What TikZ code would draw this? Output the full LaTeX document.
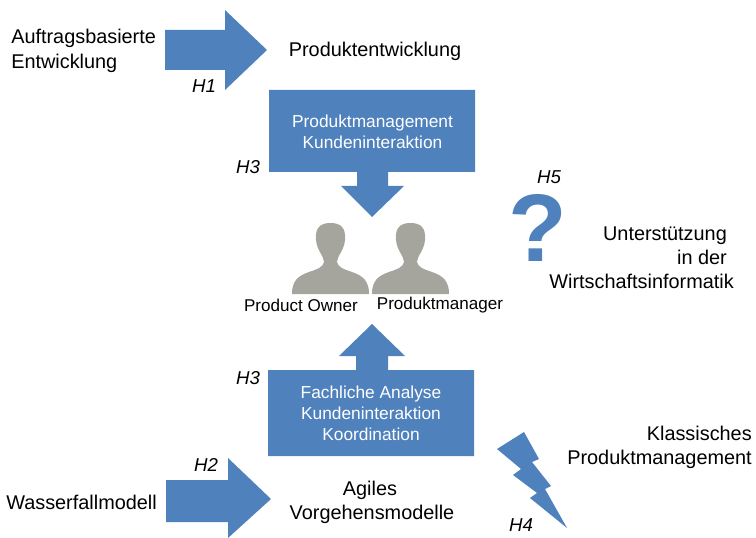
\documentclass[tikz,border=0pt]{standalone}
\usepackage{fontspec}
\setmainfont{Liberation Sans}
\definecolor{bl}{HTML}{4F81BD}
\definecolor{gr}{HTML}{A6A59D}
\tikzset{
  shapefill/.style={fill=bl,draw=none},
  lab/.style={inner sep=0pt,align=center,text=black,font=\fontsize{14.9}{18}\selectfont},
  white lab/.style={inner sep=0pt,align=center,text=white,font=\fontsize{13}{15.8}\selectfont},
  small lab/.style={inner sep=0pt,font=\fontsize{12.8}{15}\selectfont},
  hyp/.style={inner sep=0pt,font=\fontsize{14}{16}\selectfont\itshape},
  person/.pic={
    \fill[gr] (0,0) -- (77,0) .. controls (77,-12) and (72,-18) .. (60,-22)
      .. controls (51,-25) and (46,-27) .. (45,-32)
      .. controls (45,-38) and (52,-43) .. (53,-54)
      .. controls (54,-66) and (49,-71) .. (38.5,-71)
      .. controls (28,-71) and (23,-66) .. (24,-54)
      .. controls (25,-43) and (32,-38) .. (32,-32)
      .. controls (31,-27) and (26,-25) .. (17,-22)
      .. controls (5,-18) and (0,-12) .. (0,0) -- cycle;
  }
}
\begin{document}
\begin{tikzpicture}[x=0.75pt,y=-0.75pt]
\useasboundingbox (0,0) rectangle (756,538);
% top arrow
\fill[shapefill] (165,30) -- (225,30) -- (225,10) -- (267,50) -- (225,90) -- (225,70) -- (165,70) -- cycle;
% box 1
\fill[shapefill] (269,90) -- (475,90) -- (475,172) -- (388,172) -- (388,186) -- (404,186) -- (372,217) -- (341,186) -- (357,186) -- (357,172) -- (269,172) -- cycle;
% box 2
\fill[shapefill] (268,456) -- (474,456) -- (474,370) -- (388,370) -- (388,356) -- (405,356) -- (372,324) -- (339,356) -- (356,356) -- (356,370) -- (268,370) -- cycle;
% bottom arrow
\fill[shapefill] (166,480) -- (228,480) -- (228,458) -- (271,499) -- (228,538) -- (228,522) -- (166,522) -- cycle;
% lightning
\fill[shapefill] (497,449) -- (524,432) -- (539,459) -- (532,462) -- (551,486) -- (545,489) -- (567,528) -- (530,498) -- (537,493) -- (513,475) -- (521,469) -- cycle;
% persons
\pic at (292,294) {person};
\pic at (372,294) {person};
% question mark
\node[inner sep=0pt,text=bl,font=\fontsize{72}{72}\selectfont\bfseries] (q) at (538,228) {?};
% texts
\node[lab,align=left,anchor=west,font=\fontsize{14.9}{18.8}\selectfont] (a) at (11,51) {Auftragsbasierte\\Entwicklung};
\node[lab] (b) at (375,51) {Produktentwicklung};
\node[white lab] (c) at (372.5,132) {Produktmanagement\\Kundeninteraktion};
\node[white lab] (d) at (371,413) {Fachliche Analyse\\Kundeninteraktion\\Koordination};
\node[small lab] (e) at (301,305) {Product Owner};
\node[small lab] (f) at (440,305) {Produktmanager};
\node[lab,align=right,anchor=east] (g) at (734,258) {\mbox{Unterstützung\kern5.2pt}\\\mbox{in der\kern5.2pt}\\Wirtschaftsinformatik};
\node[lab,align=right,anchor=east] (h) at (752,447.5) {Klassisches\\Produktmanagement};
\node[lab,anchor=west] (i) at (6,502) {Wasserfallmodell};
\node[lab] (j) at (372,502) {\mbox{Agiles\kern3pt}\\Vorgehensmodelle};
\node[hyp] (h1) at (204,86) {H1};
\node[hyp] (h2) at (206,465) {H2};
\node[hyp] (h3a) at (248,167) {H3};
\node[hyp] (h3b) at (248,378) {H3};
\node[hyp] (h4) at (521,525) {H4};
\node[hyp] (h5) at (549,177) {H5};
\end{tikzpicture}
\end{document}
